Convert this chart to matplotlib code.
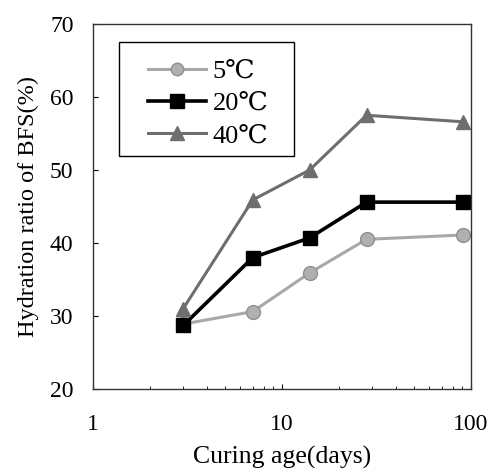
import matplotlib
matplotlib.use('Agg')
import matplotlib.pyplot as plt
from matplotlib.patches import Rectangle

# curing ages (days) and hydration ratio of BFS (%)
ages = [3, 7, 14, 28, 91]
ratio_5c = [28.9, 30.6, 35.9, 40.5, 41.1]
ratio_20c = [28.7, 38.0, 40.7, 45.6, 45.6]
ratio_40c = [31.0, 45.9, 50.0, 57.5, 56.6]

plt.rcParams['font.family'] = ['Liberation Serif', 'DejaVu Serif']
plt.rcParams['font.size'] = 17

fig = plt.figure(figsize=(4.91, 4.68), dpi=100)
ax = fig.add_axes([93 / 491, 1 - 389 / 468, 378 / 491, 365 / 468])

ax.plot(ages, ratio_5c, color='#a8a8a8', lw=2.2, marker='o', ms=10,
        mfc='#b0b0b0', mec='#909090', label='5℃')
ax.plot(ages, ratio_20c, color='black', lw=2.6, marker='s', ms=10.5,
        mfc='black', mec='black', label='20℃')
ax.plot(ages, ratio_40c, color='#6e6e6e', lw=2.2, marker='^', ms=10.5,
        mfc='#6e6e6e', mec='#6e6e6e', label='40℃')

ax.set_xscale('log')
ax.set_xlim(1, 100)
ax.set_ylim(20, 70)
ax.set_yticks([20, 30, 40, 50, 60, 70])
ax.set_xticks([1, 10, 100])
ax.set_xticklabels(['1', '10', '100'])
ax.tick_params(direction='in', which='both', top=False, right=False)
ax.tick_params(axis='x', pad=18)
ax.tick_params(axis='y', pad=14)
for s in ax.spines.values():
    s.set_linewidth(1.0)
    s.set_color('#333333')

ax.set_xlabel('Curing age(days)', fontsize=18.5, labelpad=8)
ax.set_ylabel('Hydration ratio of BFS(%)', fontsize=17.5, labelpad=8)

# legend box drawn separately so the padding matches the original
ax.add_patch(Rectangle((0.069, 0.638), 0.463, 0.313, transform=ax.transAxes,
                       fill=False, edgecolor='black', lw=1.0, zorder=4))
leg = ax.legend(loc='upper left', bbox_to_anchor=(0.145, 0.903), frameon=False,
                handlelength=2.2, fontsize=19, borderpad=0, labelspacing=0.33,
                handletextpad=0.25, borderaxespad=0, markerscale=0.9)

fig.savefig('out.png', dpi=100)
